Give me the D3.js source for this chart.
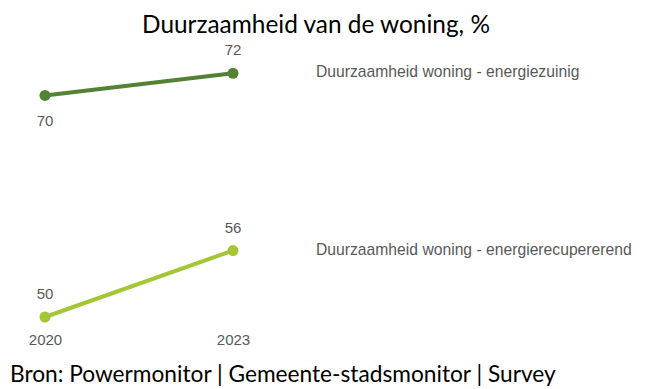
<!DOCTYPE html>
<html>
<head>
<meta charset="utf-8">
<script src="https://cdn.jsdelivr.net/npm/d3@7"></script>
<style>
  html, body { margin: 0; padding: 0; background: #fff; }
  svg { display: block; }
</style>
</head>
<body>
<svg id="chart" width="646" height="389"></svg>
<script>
// Survey results per year, in percent
const years = ["2020", "2023"];
const seriesNames = [
  "Duurzaamheid woning - energiezuinig",
  "Duurzaamheid woning - energierecupererend"
];
const energiezuinig = [70, 72];
const energierecupererend = [50, 56];
const seriesColors = ["#548235", "#a5c634"];
// Whether the 2020 value label sits below (true) or above the point
const firstLabelBelow = [true, false];

const title = "Duurzaamheid van de woning, %";
const source = "Bron: Powermonitor | Gemeente-stadsmonitor | Survey";

const series = [energiezuinig, energierecupererend].map((vals, i) => ({
  name: seriesNames[i],
  color: seriesColors[i],
  below: firstLabelBelow[i],
  points: vals.map((v, j) => ({ year: years[j], value: v }))
}));

const svg = d3.select("#chart");

const x = d3.scalePoint().domain(years).range([45, 233]);
const y = d3.scaleLinear().domain([50, 72]).range([317, 73.3]);

const line = d3.line().x(d => x(d.year)).y(d => y(d.value));

const headFont = "Lato, 'Open Sans', sans-serif";
const labelFont = "'Liberation Sans', Arial, sans-serif";

// Title
svg.append("text")
  .attr("x", 316).attr("y", 33)
  .attr("text-anchor", "middle")
  .attr("font-family", headFont)
  .attr("font-size", 24.4)
  .attr("fill", "#000")
  .text(title);

const g = svg.selectAll("g.series").data(series).join("g").attr("class", "series");

g.append("path")
  .attr("d", d => line(d.points))
  .attr("fill", "none")
  .attr("stroke", d => d.color)
  .attr("stroke-width", 4)
  .attr("stroke-linecap", "round");

g.selectAll("circle").data(d => d.points.map(p => ({ ...p, color: d.color })))
  .join("circle")
  .attr("cx", d => x(d.year))
  .attr("cy", d => y(d.value))
  .attr("r", 5.5)
  .attr("fill", d => d.color);

// Value labels
g.selectAll("text.value").data(d => d.points.map((p, j) => ({ ...p, below: d.below && j === 0 })))
  .join("text")
  .attr("class", "value")
  .attr("x", d => x(d.year))
  .attr("y", d => y(d.value) + (d.below ? 31 : -18))
  .attr("text-anchor", "middle")
  .attr("font-family", labelFont)
  .attr("font-size", 15)
  .attr("fill", "#595959")
  .text(d => d.value);

// Series names to the right of the last point
g.append("text")
  .attr("x", 316)
  .attr("y", d => y(d.points[d.points.length - 1].value) + 4)
  .attr("font-family", labelFont)
  .attr("font-size", 15.7)
  .attr("fill", "#595959")
  .text(d => d.name);

// Year axis labels
svg.append("g")
  .attr("transform", "translate(0,317)")
  .call(d3.axisBottom(x).tickSize(0).tickPadding(17))
  .call(a => a.select(".domain").remove())
  .call(a => a.selectAll("text")
    .attr("font-family", labelFont)
    .attr("font-size", 15)
    .attr("fill", "#595959"));

// Source line
svg.append("text")
  .attr("x", 10).attr("y", 382)
  .attr("font-family", headFont)
  .attr("font-size", 22.7)
  .attr("fill", "#000")
  .text(source);
</script>
</body>
</html>
